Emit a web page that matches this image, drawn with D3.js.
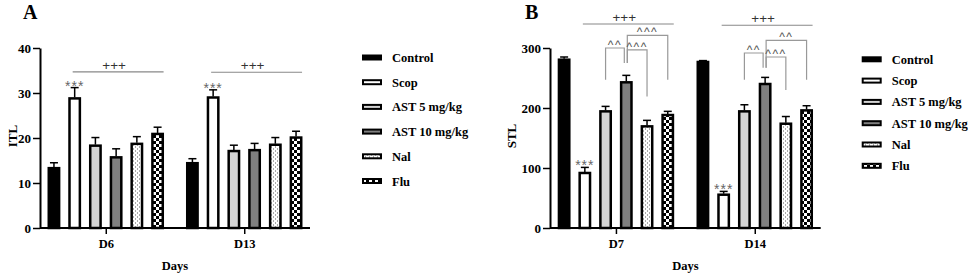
<!DOCTYPE html>
<html><head><meta charset="utf-8">
<script src="https://cdn.jsdelivr.net/npm/d3@7"></script>
<style>
body{margin:0;background:#fff;}
svg text{font-family:"Liberation Serif","Times New Roman",serif;font-weight:bold;}
svg text.ann{font-family:"Liberation Sans",Arial,sans-serif;font-weight:normal;}
</style></head><body>
<script>
// ---------- data ----------
const seriesNames = ["Control","Scop","AST 5 mg/kg","AST 10 mg/kg","Nal","Flu"];

const daysA = ["D6","D13"];
const itlMeanD6  = [13.3, 28.8, 18.3, 15.7, 18.7, 20.9];
const itlSemD6   = [1.2, 2.4, 1.8, 1.9, 1.6, 1.5];
const itlMeanD13 = [14.4, 29.0, 17.1, 17.3, 18.5, 20.1];
const itlSemD13  = [1.0, 1.7, 1.3, 1.5, 1.6, 1.4];
const ticksA = [0, 10, 20, 30, 40];

const daysB = ["D7","D14"];
const stlMeanD7  = [280.5, 91.7, 194.4, 242.8, 169.4, 188.3];
const stlSemD7   = [4.5, 9.3, 8.3, 11.6, 10.0, 6.1];
const stlMeanD14 = [276.7, 55.5, 194.4, 240.0, 173.8, 196.0];
const stlSemD14  = [2.3, 5.5, 11.0, 11.0, 12.0, 7.8];
const ticksB = [0, 100, 200, 300];

// significance annotations (levels in data units)
const starsA = [{day:"D6", series:"Scop", label:"***"}, {day:"D13", series:"Scop", label:"***"}];
const starsB = [{day:"D7", series:"Scop", label:"***"}, {day:"D14", series:"Scop", label:"***"}];
const plusA = [{day:"D6", level:34.7, label:"+++"}, {day:"D13", level:34.6, label:"+++"}];
const plusB = [{day:"D7", level:340, label:"+++"}, {day:"D14", level:338, label:"+++"}];
const bracketsB = [
  {day:"D7",  from:"AST 5 mg/kg",  to:"AST 10 mg/kg", label:"^^",  top:300,   legFrom:247, legTo:275},
  {day:"D7",  from:"AST 10 mg/kg", to:"Flu",          label:"^^^", top:321,   legFrom:275, legTo:247},
  {day:"D7",  from:"AST 10 mg/kg", to:"Nal",          label:"^^^", top:297,   legFrom:275, legTo:219},
  {day:"D14", from:"AST 5 mg/kg",  to:"AST 10 mg/kg", label:"^^",  top:291.7, legFrom:247, legTo:267},
  {day:"D14", from:"AST 10 mg/kg", to:"Flu",          label:"^^",  top:312.7, legFrom:267, legTo:247},
  {day:"D14", from:"AST 10 mg/kg", to:"Nal",          label:"^^^", top:285,   legFrom:267, legTo:230}
];

// ---------- drawing ----------
const svg = d3.select("body").append("svg").attr("width", 969).attr("height", 274);
const defs = svg.append("defs");
const dots = defs.append("pattern").attr("id","dots").attr("patternUnits","userSpaceOnUse")
  .attr("width",4).attr("height",4);
dots.append("rect").attr("width",4).attr("height",4).attr("fill","#fff");
dots.append("rect").attr("x",1).attr("y",0.5).attr("width",1).attr("height",1).attr("fill","#555");
dots.append("rect").attr("x",3).attr("y",2.5).attr("width",1).attr("height",1).attr("fill","#555");
const chk = defs.append("pattern").attr("id","checker").attr("patternUnits","userSpaceOnUse")
  .attr("width",6).attr("height",6);
chk.append("rect").attr("width",6).attr("height",6).attr("fill","#fff");
chk.append("rect").attr("width",3).attr("height",3).attr("fill","#000");
chk.append("rect").attr("x",3).attr("y",3).attr("width",3).attr("height",3).attr("fill","#000");

const fills = d3.scaleOrdinal().domain(seriesNames)
  .range(["#000", "#fff", "#d4d4d4", "#7f7f7f", "url(#dots)", "url(#checker)"]);

function panel(o) {
  const g = svg.append("g");
  const y = d3.scaleLinear().domain([0, o.yMax]).range([228, 48]);
  const xg = d3.scalePoint().domain(o.days).range(o.xRange).padding(0.475);
  const xs = d3.scaleBand().domain(seriesNames).range([-57, 57]).paddingInner(0.5);
  const cx = (day, s) => xg(day) + xs(s) + xs.bandwidth() / 2;

  const rows = [];
  o.days.forEach((d, di) => seriesNames.forEach((s, si) =>
    rows.push({day: d, series: s, mean: o.means[di][si], sem: o.sems[di][si]})));
  const find = (day, s) => rows.find(r => r.day === day && r.series === s);

  // bars
  g.selectAll("rect.bar").data(rows).join("rect").attr("class","bar")
    .attr("x", d => xg(d.day) + xs(d.series))
    .attr("y", d => y(d.mean))
    .attr("width", xs.bandwidth())
    .attr("height", d => y(0) - y(d.mean))
    .attr("fill", d => fills(d.series))
    .attr("stroke", "#000").attr("stroke-width", 2.5);
  // error bars
  const eb = g.selectAll("g.eb").data(rows).join("g").attr("class","eb")
    .attr("stroke","#000").attr("stroke-width",1.5);
  eb.append("line").attr("x1", d => cx(d.day, d.series)).attr("x2", d => cx(d.day, d.series))
    .attr("y1", d => y(d.mean) - 1).attr("y2", d => y(d.mean + d.sem));
  eb.append("line").attr("x1", d => cx(d.day, d.series) - 4).attr("x2", d => cx(d.day, d.series) + 4)
    .attr("y1", d => y(d.mean + d.sem)).attr("y2", d => y(d.mean + d.sem));

  // axes
  const ya = g.append("g").attr("transform", `translate(${o.xRange[0]},0)`)
    .call(d3.axisLeft(y).tickValues(o.ticks).tickSize(7).tickSizeOuter(0).tickPadding(2));
  ya.select(".domain").attr("stroke-width", 2);
  ya.selectAll(".tick line").attr("stroke-width", 1.5);
  ya.selectAll("text").attr("font-size", 13);

  const xa = g.append("g").attr("transform", `translate(0,${y(0)})`)
    .call(d3.axisBottom(xg).tickSize(6).tickSizeOuter(0).tickPadding(5.5));
  xa.select(".domain").attr("d", `M${o.xRange[0]},0H${o.xRange[1]}`).attr("stroke-width", 2);
  xa.selectAll(".tick line").attr("stroke-width", 1.5);
  xa.selectAll("text").attr("font-size", 12.5);

  // titles
  g.append("text").attr("x", (o.xRange[0] + o.xRange[1]) / 2).attr("y", 270)
    .attr("text-anchor","middle").attr("font-size",12.5).text("Days");
  g.append("text").attr("transform", `translate(${o.yLabelX},136) rotate(-90)`)
    .attr("text-anchor","middle").attr("font-size",13).text(o.yLabel);
  g.append("text").attr("x", o.titleX).attr("y", 19).attr("font-size", 20).text(o.title);

  // stars
  g.selectAll("text.star").data(o.stars).join("text").attr("class","star ann")
    .attr("x", d => cx(d.day, d.series))
    .attr("y", d => { const r = find(d.day, d.series); return y(r.mean + r.sem) + 3; })
    .attr("text-anchor","middle").attr("font-size", 14).attr("letter-spacing", 1)
    .attr("fill","#666").text(d => d.label);

  // +++ lines
  o.plus.forEach(p => {
    const x1 = cx(p.day, "Scop") - 2, x2 = cx(p.day, "Flu") + 6;
    g.append("line").attr("x1", x1).attr("x2", x2).attr("y1", y(p.level)).attr("y2", y(p.level))
      .attr("stroke", "#888").attr("stroke-width", 1.1);
    g.append("text").attr("class","ann").attr("x", (x1 + x2) / 2 - 4).attr("y", y(p.level) - 2)
      .attr("text-anchor","middle").attr("font-size", 13.5).attr("fill","#333").text(p.label);
  });

  // brackets
  (o.brackets || []).forEach(b => {
    const xa1 = cx(b.day, b.from) + (b.from === "AST 10 mg/kg" ? 1 : 0);
    const xb1 = cx(b.day, b.to) + (b.to === "AST 10 mg/kg" ? -2 : 0);
    g.append("path").attr("d", `M${xa1},${y(b.legFrom)}V${y(b.top)}H${xb1}V${y(b.legTo)}`)
      .attr("fill","none").attr("stroke","#999").attr("stroke-width",1.2);
    g.append("text").attr("class","ann").attr("x", (xa1 + xb1) / 2).attr("y", y(b.top) + 1)
      .attr("text-anchor","middle").attr("font-size", 12).attr("letter-spacing", 1.5)
      .attr("fill","#555").text(b.label);
  });

  // legend
  const lg = g.append("g");
  seriesNames.forEach((s, i) => {
    const cy = o.legendY0 + i * o.legendStep;
    lg.append("rect").attr("x", o.legendX + 1).attr("y", cy - 2).attr("width", 18).attr("height", 4)
      .attr("fill", fills(s)).attr("stroke","#000").attr("stroke-width", 2);
    lg.append("text").attr("x", o.legendX + 30).attr("y", cy + 4.5).attr("font-size", 12.5).text(s);
  });
}

panel({days: daysA, means: [itlMeanD6, itlMeanD13], sems: [itlSemD6, itlSemD13], yMax: 40, ticks: ticksA,
  xRange: [40, 310], yLabel: "ITL", yLabelX: 17, title: "A", titleX: 23,
  stars: starsA, plus: plusA, legendX: 362, legendY0: 57.5, legendStep: 24.7});
panel({days: daysB, means: [stlMeanD7, stlMeanD14], sems: [stlSemD7, stlSemD14], yMax: 300, ticks: ticksB,
  xRange: [550, 820.7], yLabel: "STL", yLabelX: 516, title: "B", titleX: 525,
  stars: starsB, plus: plusB, brackets: bracketsB, legendX: 861.7, legendY0: 59.3, legendStep: 21.3});
</script>
</body></html>
